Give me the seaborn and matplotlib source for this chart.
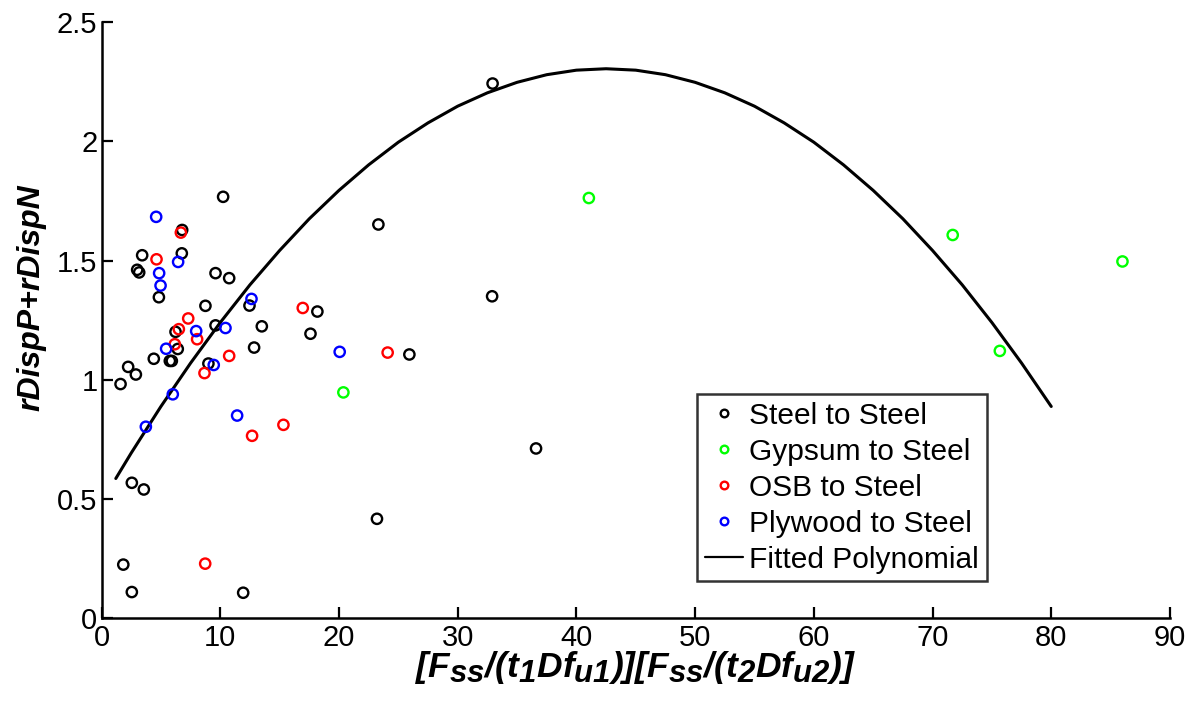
import numpy as np
import pandas as pd
import matplotlib
matplotlib.use("Agg")
import matplotlib.pyplot as plt
import matplotlib._mathtext as _mt
import seaborn as sns
from matplotlib.lines import Line2D

# ---- data ----
steel_x = [10.24, 6.79, 3.42, 6.76, 3.00, 3.17, 9.60, 10.75, 4.83, 8.75, 12.46, 9.60,
           13.50, 6.23, 6.42, 12.85, 4.40, 5.75, 5.92, 9.00, 2.24, 2.89, 1.60, 2.55,
           3.56, 1.83, 2.55, 11.93, 32.94, 23.32, 32.90, 18.18, 17.60, 25.93, 36.60, 23.20]
steel_y = [1.767, 1.628, 1.522, 1.530, 1.461, 1.450, 1.447, 1.426, 1.346, 1.310, 1.311, 1.228,
           1.224, 1.201, 1.129, 1.135, 1.088, 1.079, 1.079, 1.068, 1.054, 1.022, 0.982, 0.568,
           0.540, 0.225, 0.110, 0.107, 2.242, 1.651, 1.350, 1.286, 1.193, 1.106, 0.712, 0.417]

gypsum_x = [41.05, 20.37, 71.70, 75.67, 86.00]
gypsum_y = [1.762, 0.947, 1.607, 1.121, 1.496]

osb_x = [6.68, 4.63, 7.30, 6.51, 6.17, 8.05, 10.75, 8.67, 16.95, 12.68, 15.32, 24.10, 8.73]
osb_y = [1.617, 1.505, 1.257, 1.212, 1.149, 1.170, 1.100, 1.028, 1.301, 0.765, 0.811, 1.114, 0.229]

plywood_x = [4.60, 6.45, 4.85, 4.97, 12.63, 7.97, 10.44, 5.44, 9.45, 6.00, 11.42, 3.73, 20.06]
plywood_y = [1.683, 1.494, 1.447, 1.395, 1.339, 1.204, 1.217, 1.130, 1.062, 0.939, 0.850, 0.803, 1.117]

fit_x = [1.2, 2.5, 5, 7.5, 10, 12.5, 15, 17.5, 20, 22.5, 25, 27.5, 30, 32.5, 35, 37.5, 40,
         42.5, 45, 47.5, 50, 52.5, 55, 57.5, 60, 62.5, 65, 67.5, 70, 72.5, 75, 77.5, 80]
fit_y = [0.586, 0.693, 0.888, 1.070, 1.240, 1.398, 1.542, 1.675, 1.794, 1.901, 1.996, 2.077,
         2.147, 2.203, 2.247, 2.279, 2.298, 2.304, 2.298, 2.279, 2.247, 2.203, 2.147, 2.077,
         1.996, 1.901, 1.794, 1.675, 1.542, 1.398, 1.240, 1.070, 0.888]

series_names = ["Steel to Steel", "Gypsum to Steel", "OSB to Steel", "Plywood to Steel"]
series_colors = ["#000000", "#00ff00", "#ff0000", "#0000ff"]
fit_label = "Fitted Polynomial"

x_ticks = [0, 10, 20, 30, 40, 50, 60, 70, 80, 90]
y_ticks = [0, 0.5, 1, 1.5, 2, 2.5]
y_tick_labels = ["0", "0.5", "1", "1.5", "2", "2.5"]

# ---- styling ----
sns.set_style("white")
plt.rcParams["font.family"] = ["Liberation Sans", "DejaVu Sans"]
plt.rcParams["mathtext.fontset"] = "custom"
plt.rcParams["mathtext.rm"] = "Liberation Sans:bold:italic"
plt.rcParams["mathtext.it"] = "Liberation Sans:bold:italic"
plt.rcParams["mathtext.bf"] = "Liberation Sans:bold:italic"
plt.rcParams["mathtext.default"] = "it"
plt.rcParams["text.color"] = "black"
plt.rcParams["axes.labelcolor"] = "black"
_mt.SHRINK_FACTOR = 0.88  # larger subscripts, as in the reference

fig = plt.figure(figsize=(11.92, 7.07), dpi=100)
ax = fig.add_axes([0.0852, 0.1255, 0.8963, 0.8434])

frames = []
for name, xs, ys in zip(series_names, [steel_x, gypsum_x, osb_x, plywood_x],
                        [steel_y, gypsum_y, osb_y, plywood_y]):
    frames.append(pd.DataFrame({"x": xs, "y": ys, "group": name}))
df = pd.concat(frames, ignore_index=True)

handles = []
for name, col in zip(series_names, series_colors):
    sub = df[df["group"] == name]
    sns.scatterplot(data=sub, x="x", y="y", ax=ax, marker="o", s=55,
                    facecolor="none", edgecolor=col, linewidth=1.7, legend=False, zorder=3)
    handles.append(Line2D([], [], linestyle="none", marker="o", markersize=5.5,
                          markerfacecolor="none", markeredgecolor=col,
                          markeredgewidth=1.7, label=name))

fit_df = pd.DataFrame({"x": fit_x, "y": fit_y})
sns.lineplot(data=fit_df, x="x", y="y", ax=ax, color="black", linewidth=2.2,
             sort=False, zorder=2)
handles.append(Line2D([], [], color="black", linewidth=1.6, label=fit_label))

ax.set_xlim(0, 90)
ax.set_ylim(0, 2.5)
ax.set_xticks(x_ticks)
ax.set_xticklabels([str(t) for t in x_ticks])
ax.set_yticks(y_ticks)
ax.set_yticklabels(y_tick_labels)
ax.tick_params(axis="both", direction="in", length=8, width=1.6, labelsize=21,
               colors="black", bottom=True, left=True)
ax.tick_params(axis="y", pad=3)
ax.tick_params(axis="x", pad=4)

for side in ["top", "right"]:
    ax.spines[side].set_visible(False)
for side in ["left", "bottom"]:
    ax.spines[side].set_linewidth(1.8)
    ax.spines[side].set_color("black")

ax.set_xlabel(r"$[F_{ss}/(t_1Df_{u1})][F_{ss}/(t_2Df_{u2})]$", fontsize=25.5, color="black")
ax.xaxis.set_label_coords(0.5, -0.052)
ax.set_ylabel("rDispP+rDispN", fontsize=23, fontweight="bold", fontstyle="italic",
              color="black")
ax.yaxis.set_label_coords(-0.052, 0.537)

leg = ax.legend(handles=handles, loc="lower right", bbox_to_anchor=(0.8284, 0.062),
                bbox_transform=ax.transAxes, borderaxespad=0, fontsize=21.5,
                frameon=True, fancybox=False, labelspacing=0.27, handlelength=1.3,
                handletextpad=0.2, borderpad=0.25)
leg.get_frame().set_edgecolor("black")
leg.get_frame().set_linewidth(1.8)

fig.savefig("out.png", dpi=100, facecolor="white")
